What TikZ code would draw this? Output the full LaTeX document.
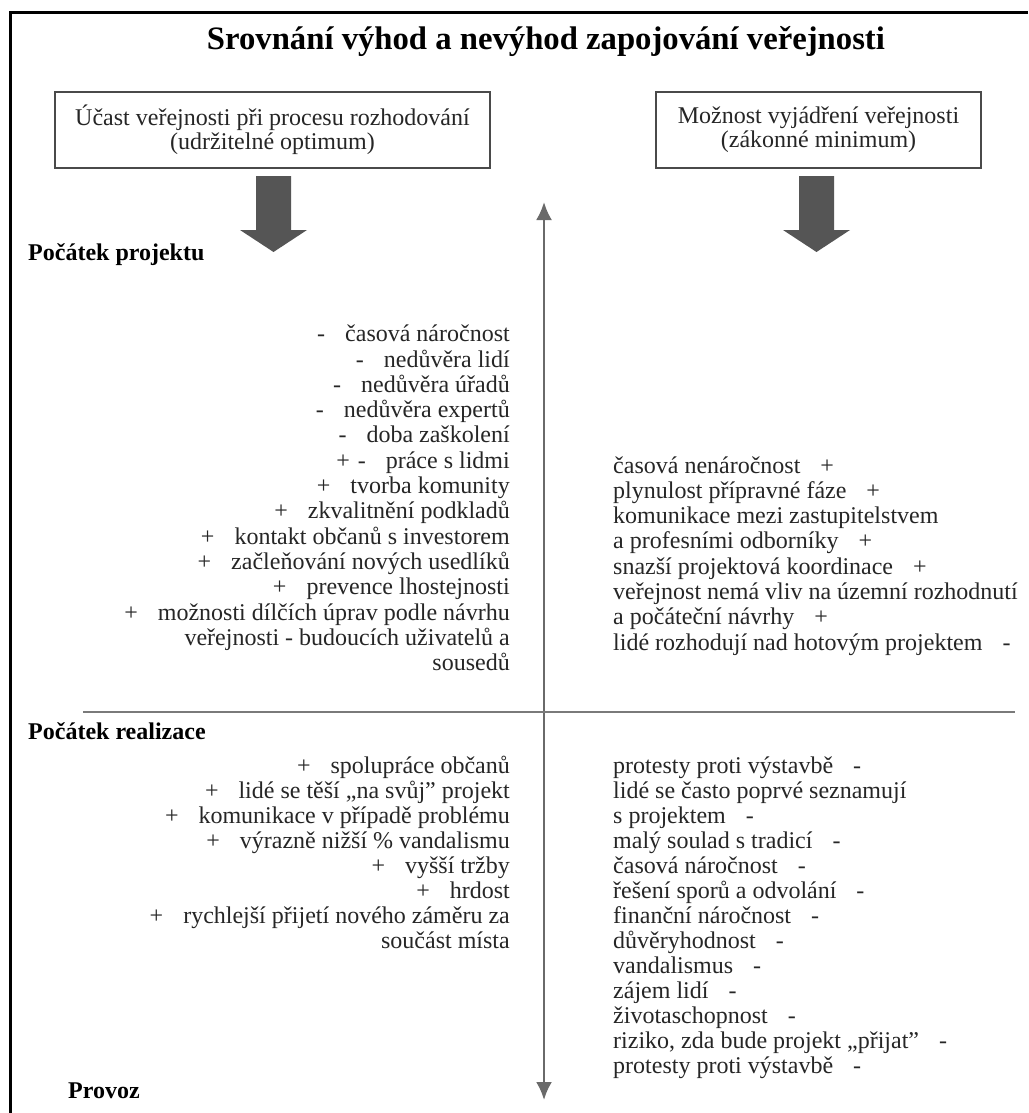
\documentclass[tikz,border=0pt]{standalone}
\usepackage{fontspec}
\setmainfont{Liberation Serif}
\usetikzlibrary{arrows.meta}
\definecolor{txt}{HTML}{262626}
\definecolor{boxline}{HTML}{4A4A4A}
\definecolor{bigarrow}{HTML}{555555}
\definecolor{axisc}{HTML}{6A6A6A}
\definecolor{divc}{HTML}{7A7A7A}
\begin{document}
\begin{tikzpicture}[x=1pt,y=-1pt,
  every node/.style={inner sep=0pt, text=txt},
  listtxt/.style={font=\fontsize{24}{25.3}\selectfont},
  headtxt/.style={font=\fontsize{24}{25.3}\selectfont\bfseries, anchor=base west, text=black},
  topbox/.style={draw=boxline, line width=1.8pt, minimum height=76pt, align=center,
     font=\fontsize{24}{24.3}\selectfont},
  bigarr/.style={fill=bigarrow, draw=none},
  axisline/.style={draw=axisc, line width=2.5pt, {Latex[length=18pt,width=16pt]}-{Latex[length=18pt,width=16pt]}},
  divline/.style={draw=divc, line width=2pt}
]
\useasboundingbox[fill=white] (0,0) rectangle (1028,1113);
% frame
\draw[line width=3pt] (10,1113) -- (10,13) -- (1028,13);
% title
\node[anchor=base, text=black, font=\fontsize{32.7}{34}\selectfont\bfseries] (title) at (546,50)
  {Srovnání výhod a nevýhod zapojování veřejnosti};
% boxes
\node[topbox, minimum width=435pt] (boxL) at (272.5,130)
  {Účast veřejnosti při procesu rozhodování\\(udržitelné optimum)};
\node[topbox, minimum width=325pt] (boxR) at (818.5,130)
  {Možnost vyjádření veřejnosti\\(zákonné minimum)};
% big arrows
\path[bigarr] (256,176) -- (291,176) -- (291,230) -- (307,230) -- (273.5,252) -- (240,230) -- (256,230) -- cycle;
\path[bigarr] (799,176) -- (834,176) -- (834,230) -- (850,230) -- (816.5,252) -- (783,230) -- (799,230) -- cycle;
% axis
\coordinate (axtop) at (544,202);
\coordinate (axbot) at (544,1100);
\draw[axisline] (axtop) -- (axbot);
% divider
\coordinate (divL) at (83,712);
\coordinate (divR) at (1015,712);
\draw[divline] (divL) -- (divR);
% phase headings
\node[headtxt] (h1) at (28,260) {Počátek projektu};
\node[headtxt] (h2) at (28,739) {Počátek realizace};
\node[headtxt] (h3) at (68,1098) {Provoz};
% left upper list
\foreach \t [count=\i] in {
  {-\hspace{20pt}časová náročnost},
  {-\hspace{20pt}nedůvěra lidí},
  {-\hspace{20pt}nedůvěra úřadů},
  {-\hspace{20pt}nedůvěra expertů},
  {-\hspace{20pt}doba zaškolení},
  {+\hspace{8pt}-\hspace{20pt}práce s lidmi},
  {+\hspace{20pt}tvorba komunity},
  {+\hspace{20pt}zkvalitnění podkladů},
  {+\hspace{20pt}kontakt občanů s investorem},
  {+\hspace{20pt}začleňování nových usedlíků},
  {+\hspace{20pt}prevence lhostejnosti},
  {+\hspace{20pt}možnosti dílčích úprav podle návrhu},
  {veřejnosti - budoucích uživatelů a},
  {sousedů}}
  \node[listtxt, anchor=base east] (lu\i) at (510,{341.7+25.3*(\i-1)}) {\t};
% right upper list
\foreach \t [count=\i] in {
  {časová nenáročnost\hspace{20pt}+},
  {plynulost přípravné fáze\hspace{20pt}+},
  {komunikace mezi zastupitelstvem},
  {a profesními odborníky\hspace{20pt}+},
  {snazší projektová koordinace\hspace{20pt}+},
  {veřejnost nemá vliv na územní rozhodnutí},
  {a počáteční návrhy\hspace{20pt}+},
  {lidé rozhodují nad hotovým projektem\hspace{20pt}-}}
  \node[listtxt, anchor=base west] (ru\i) at (613,{473+25.3*(\i-1)}) {\t};
% left lower list
\foreach \t [count=\i] in {
  {+\hspace{20pt}spolupráce občanů},
  {+\hspace{20pt}lidé se těší „na svůj” projekt},
  {+\hspace{20pt}komunikace v případě problému},
  {+\hspace{20pt}výrazně nižší \% vandalismu},
  {+\hspace{20pt}vyšší tržby},
  {+\hspace{20pt}hrdost},
  {+\hspace{20pt}rychlejší přijetí nového záměru za},
  {součást místa}}
  \node[listtxt, anchor=base east] (ll\i) at (510,{773+25*(\i-1)}) {\t};
% right lower list
\foreach \t [count=\i] in {
  {protesty proti výstavbě\hspace{20pt}-},
  {lidé se často poprvé seznamují},
  {s projektem\hspace{20pt}-},
  {malý soulad s tradicí\hspace{20pt}-},
  {časová náročnost\hspace{20pt}-},
  {řešení sporů a odvolání\hspace{20pt}-},
  {finanční náročnost\hspace{20pt}-},
  {důvěryhodnost\hspace{20pt}-},
  {vandalismus\hspace{20pt}-},
  {zájem lidí\hspace{20pt}-},
  {životaschopnost\hspace{20pt}-},
  {riziko, zda bude projekt „přijat”\hspace{20pt}-},
  {protesty proti výstavbě\hspace{20pt}-}}
  \node[listtxt, anchor=base west] (rl\i) at (613,{773+25*(\i-1)}) {\t};
\end{tikzpicture}
\end{document}
